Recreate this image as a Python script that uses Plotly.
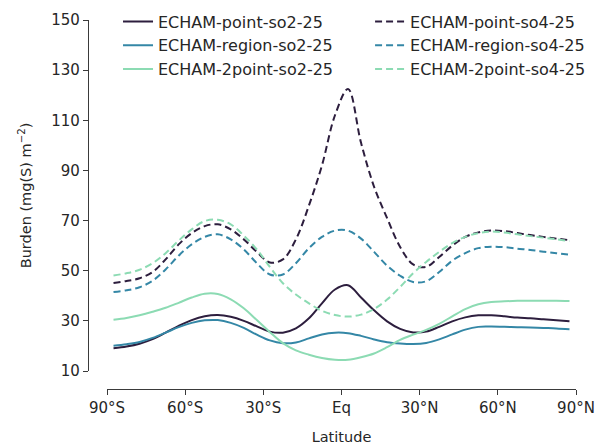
import plotly.graph_objects as go

lats = [-87.5, -82.5, -77.5, -72.5, -67.5, -62.5, -57.5, -52.5, -47.5, -42.5, -37.5, -32.5,
        -27.5, -22.5, -17.5, -12.5, -7.5, -2.5, 2.5, 7.5, 12.5, 17.5, 22.5, 27.5,
        32.5, 37.5, 42.5, 47.5, 52.5, 57.5, 62.5, 67.5, 72.5, 77.5, 82.5, 87.5]

point_so2 = [19.1, 19.8, 20.9, 22.7, 25.3, 28, 30.3, 31.8, 32.3, 31.6, 30, 27.8,
             25.7, 25.3, 27, 31, 37, 42.5, 44.2, 39.3, 34.2, 29.8, 26.8, 25.4,
             25.7, 27.6, 29.8, 31.4, 32.2, 32.2, 31.8, 31.3, 31, 30.6, 30.2, 29.8]
region_so2 = [20.1, 20.7, 21.6, 23.2, 25.3, 27.5, 29.2, 30.2, 30.3, 29.2, 27.2, 24.5,
              22.2, 21.1, 21.4, 23, 24.6, 25.3, 25.1, 24, 22.6, 21.5, 21, 20.8,
              21.2, 22.6, 24.6, 26.5, 27.6, 27.7, 27.6, 27.5, 27.4, 27.2, 27, 26.7]
twopoint_so2 = [30.4, 31.1, 32.2, 33.6, 35.2, 37.2, 39.3, 40.8, 40.7, 38.6, 35, 30.3,
                25.5, 21.1, 18.2, 16.5, 15.2, 14.5, 14.5, 15.5, 17, 19.5, 22.4, 24.5,
                26.4, 28.8, 31.8, 34.7, 36.6, 37.5, 37.8, 38, 38, 38, 38, 37.9]
point_so4 = [45.1, 45.9, 47, 49.5, 54.5, 60.5, 65, 67.8, 68.5, 66.5, 62.5, 57.5,
             53.3, 54.5, 62.5, 76, 92, 112, 122.5, 101, 83.5, 71, 59.5, 52.5,
             51.5, 55.5, 60, 63.5, 65.3, 66, 65.8, 65, 64.2, 63.5, 62.8, 62.2]
region_so4 = [41.5, 42.2, 43.4, 46, 50.5, 56, 60.5, 63.5, 64.5, 62.5, 58.5, 53,
              48.5, 48.5, 53, 59, 63.5, 66, 66, 62.8, 57.5, 52, 48, 45.5,
              45.8, 49.5, 54, 57, 59, 59.6, 59.4, 58.8, 58.3, 57.6, 57, 56.4]
twopoint_so4 = [48.1, 49, 50.4, 53, 57, 62, 66.5, 69.8, 70.3, 68.5, 64, 58.5,
                51.5, 45, 40.5, 37, 34, 32.3, 31.7, 32.5, 34.7, 38.5, 43.5, 49,
                53.5, 57.5, 61, 63.5, 65, 65.6, 65.2, 64.5, 63.8, 63.2, 62.5, 61.8]

x_ticks = [-90, -60, -30, 0, 30, 60, 90]
x_labels = ["90°S", "60°S", "30°S", "Eq", "30°N", "60°N", "90°N"]
y_ticks = [10, 30, 50, 70, 90, 110, 130, 150]

c_dark = "#2d1e3e"
c_teal = "#3487a6"
c_light = "#8cdbb3"

series = [
    ("ECHAM-point-so2-25", point_so2, c_dark, "solid", "legend"),
    ("ECHAM-region-so2-25", region_so2, c_teal, "solid", "legend"),
    ("ECHAM-2point-so2-25", twopoint_so2, c_light, "solid", "legend"),
    ("ECHAM-point-so4-25", point_so4, c_dark, "7px,4px", "legend2"),
    ("ECHAM-region-so4-25", region_so4, c_teal, "7px,4px", "legend2"),
    ("ECHAM-2point-so4-25", twopoint_so4, c_light, "7px,4px", "legend2"),
]

fig = go.Figure()
for name, vals, col, dash, leg in series:
    fig.add_trace(go.Scatter(x=lats, y=vals, mode="lines", name=name, legend=leg,
                             line=dict(color=col, width=2, dash=dash, shape="spline", smoothing=1.0)))

tick_font = dict(family="DejaVu Sans", size=15, color="#262626")
title_font = dict(family="DejaVu Sans", size=14.5, color="#262626")
leg_font = dict(family="DejaVu Sans", size=16, color="#262626")
axis_common = dict(showgrid=False, zeroline=False, showline=True, linecolor="#3a3a3a",
                   linewidth=1.3, ticks="outside", ticklen=5, tickwidth=1.2,
                   tickcolor="#3a3a3a", tickfont=tick_font)

legend_common = dict(orientation="v", yanchor="top", xanchor="left", font=leg_font,
                     bgcolor="rgba(0,0,0,0)", tracegroupgap=0)

fig.update_layout(
    width=598, height=446,
    margin=dict(l=88, r=22, t=20, b=57, autoexpand=False),
    plot_bgcolor="white", paper_bgcolor="white",
    font=tick_font,
    xaxis=dict(range=[-90, 90], domain=[19/488, 1], anchor="free", position=0,
               tickvals=x_ticks, ticktext=x_labels,
               title=dict(text="Latitude", font=title_font, standoff=15), **axis_common),
    yaxis=dict(range=[10, 150], domain=[18/369, 1], anchor="free", position=0,
               tickvals=y_ticks,
               title=dict(text="Burden (mg(S) m<sup>−2</sup>)", font=title_font, standoff=15), **axis_common),
    legend=dict(x=0.0615, y=1.042, **legend_common),
    legend2=dict(x=0.578, y=1.042, **legend_common),
    showlegend=True,
)

fig.write_html("out.html")
